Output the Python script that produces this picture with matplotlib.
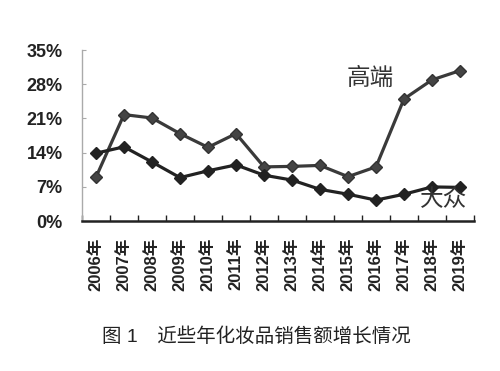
import matplotlib
matplotlib.use("Agg")
import matplotlib.pyplot as plt
import numpy as np

years = ["2006年", "2007年", "2008年", "2009年", "2010年", "2011年", "2012年",
         "2013年", "2014年", "2015年", "2016年", "2017年", "2018年", "2019年"]
high_end = [9.0, 21.8, 21.1, 17.9, 15.1, 17.9, 11.1, 11.2, 11.4, 9.1, 11.1, 25.0, 28.9, 30.8]
mass = [13.9, 15.2, 12.1, 8.9, 10.3, 11.5, 9.4, 8.4, 6.5, 5.5, 4.3, 5.5, 7.0, 6.9]
yticks = [0, 7, 14, 21, 28, 35]
series_labels = ["高端", "大众"]
caption = "图 1　近些年化妆品销售额增长情况"

fam = ["Liberation Sans", "Noto Sans CJK SC"]
plt.rcParams['font.family'] = fam

fig = plt.figure(figsize=(5.0, 3.71), dpi=100)
ax = fig.add_axes([0.164, 0.404, 0.784, 0.461])

x = np.arange(len(years))
ax.plot(x, high_end, color="#3a3a3a", lw=2.3, marker="D", ms=6.5,
        mfc="#444444", mec="#333333", zorder=3)
ax.plot(x, mass, color="#222222", lw=2.3, marker="D", ms=6.5,
        mfc="#222222", mec="#222222", zorder=3)

ax.set_xlim(-0.5, len(years) - 0.5)
ax.set_ylim(0, 35)
ax.set_yticks(yticks)
ax.set_yticklabels([f"{v}%" for v in yticks], fontsize=13, fontweight="bold",
                   color="#222222")
ax.set_xticks(x)
ax.set_xticklabels(years, rotation=90, fontsize=12, fontweight="bold",
                   color="#222222", family=fam)
ax.set_xticks(np.arange(len(years) + 1) - 0.5, minor=True)
ax.tick_params(axis="x", which="major", length=0, pad=12)
ax.tick_params(axis="x", which="minor", direction="in", length=4, width=1,
               color="#222222")
ax.tick_params(axis="y", direction="in", length=3, width=0.8, color="#aaaaaa",
               pad=14)

for s in ["top", "right"]:
    ax.spines[s].set_visible(False)
ax.spines["left"].set_color("#aaaaaa")
ax.spines["left"].set_linewidth(1.0)
ax.spines["bottom"].set_color("#222222")
ax.spines["bottom"].set_linewidth(1.8)

ax.text(9.8, 29.1, series_labels[0], fontsize=17, color="#333333",
        ha="center", va="center", family=fam, fontweight="medium")
ax.text(12.4, 4.4, series_labels[1], fontsize=17, color="#333333",
        ha="center", va="center", family=fam, fontweight="medium")

fig.text(0.513, 0.092, caption, fontsize=14, color="#222222",
         ha="center", va="center", family=fam)

fig.savefig("out.png", dpi=100, facecolor="white")
